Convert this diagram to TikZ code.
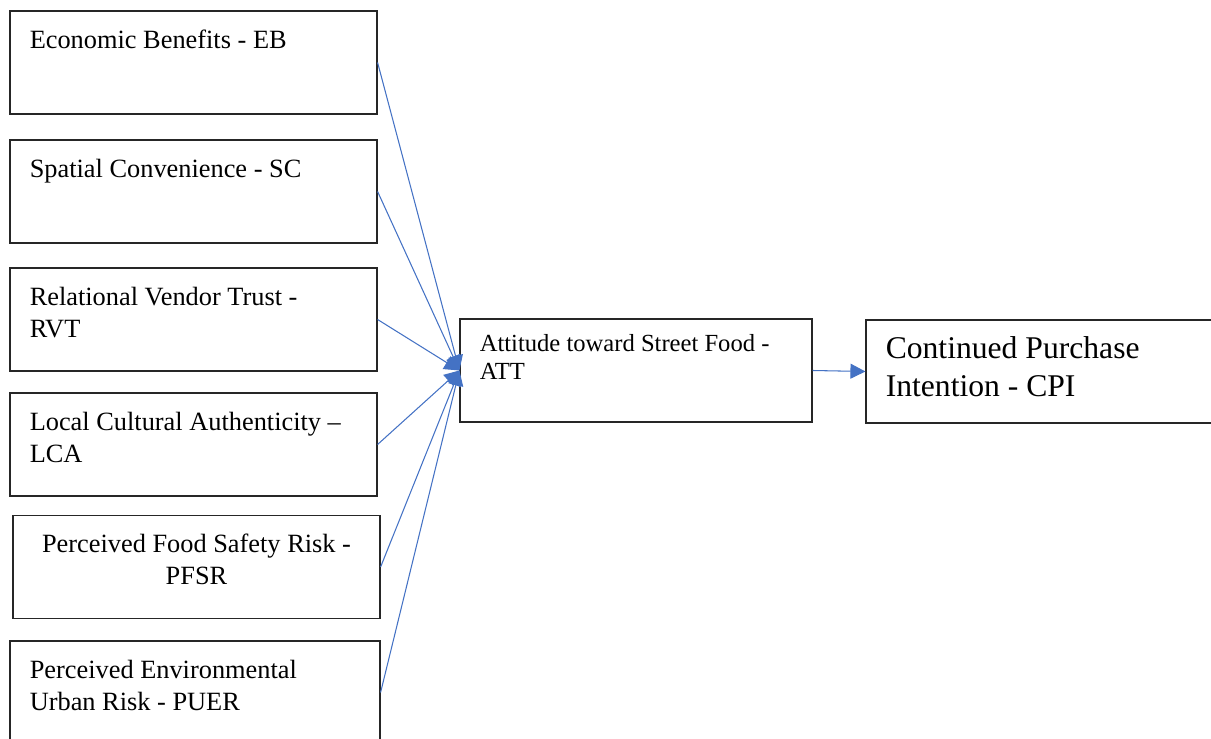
\documentclass[tikz,border=0pt]{standalone}
\usepackage{fontspec}
\setmainfont{Liberation Serif}
\usetikzlibrary{arrows.meta}
\definecolor{linkblue}{HTML}{4472C4}

\begin{document}
\begin{tikzpicture}[x=0.02cm,y=-0.02cm,>={Triangle[length=0.3cm,width=0.3cm]},
    factor node/.style={draw=black!85,line width=0.7pt,minimum width=7.34cm,minimum height=2.06cm,inner sep=0pt},
    box text/.style={anchor=north west,inner sep=0pt,align=left,font=\fontsize{15}{18.2}\selectfont,xshift=0.4cm,yshift=-0.38cm}]
    \useasboundingbox (0,0) rectangle (1211,739);

    \node[factor node,label={[box text]north west:Economic Benefits - EB}] (eb) at (193.5,62.5) {};
    \node[factor node,label={[box text]north west:Spatial Convenience - SC}] (sc) at (193.5,191.5) {};
    \node[factor node,label={[box text]north west:{Relational Vendor Trust -\\RVT}}] (rvt) at (193.5,319.5) {};
    \node[factor node,label={[box text]north west:{Local Cultural Authenticity --\\LCA}}] (lca) at (193.5,444.5) {};
    \node[factor node,label={[box text,anchor=north,align=center,xshift=-0.4cm]north:{Perceived Food Safety Risk -\\PFSR}}] (pfsr) at (196.5,567) {};
    \node[factor node,minimum width=7.4cm,label={[box text]north west:{Perceived Environmental\\Urban Risk - PUER}}] (puer) at (195,692.5) {};

    \node[factor node,minimum width=7.04cm,label={[box text,font=\fontsize{14}{16}\selectfont,yshift=0.06cm]north west:{Attitude toward Street Food -\\ATT}}] (att) at (636,370.5) {};
    \node[factor node,minimum width=7.2cm,label={[box text,font=\fontsize{18}{21.6}\selectfont,yshift=0.04cm]north west:{Continued Purchase\\Intention - CPI}}] (cpi) at (1046,371.5) {};

    \path[->,color=linkblue,line width=0.6pt]
        (eb.east) edge (att.west)
        (sc.east) edge (att.west)
        (rvt.east) edge (att.west)
        (lca.east) edge (att.west)
        (pfsr.east) edge (att.west)
        (puer.east) edge (att.west)
        (att.east) edge (cpi.west)
        ;
\end{tikzpicture}
\end{document}
